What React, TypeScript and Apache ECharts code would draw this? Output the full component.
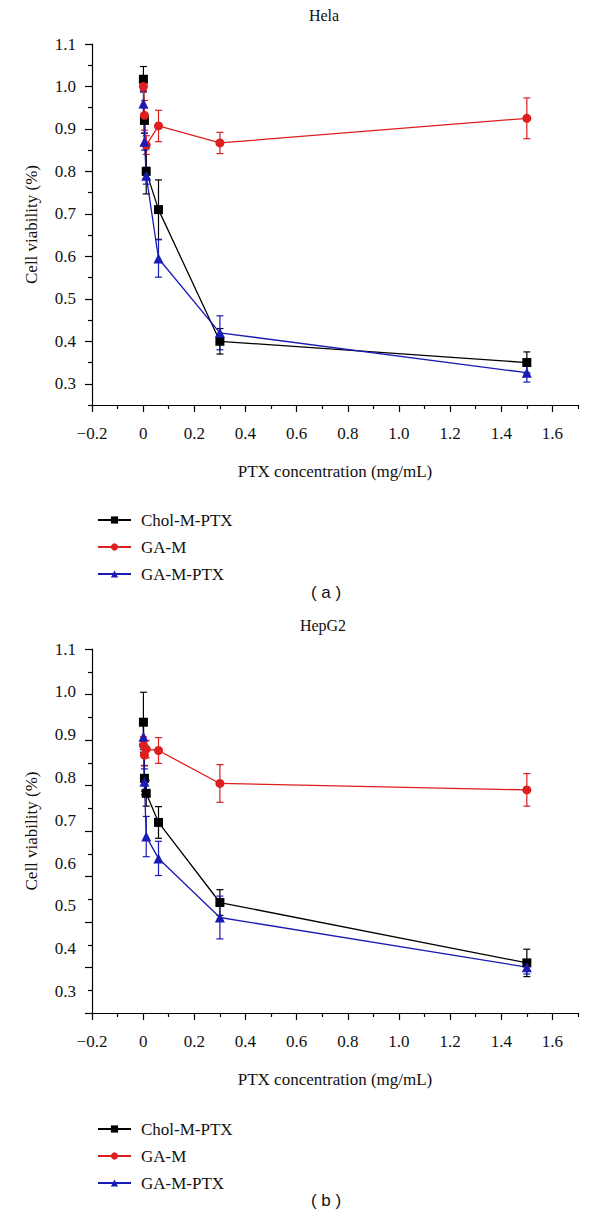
import React, { useEffect, useRef } from "react";
import * as echarts from "echarts";

// ---- data ----
const concentrations = [0.001, 0.005, 0.012, 0.06, 0.3, 1.5];
const seriesNames = ["Chol-M-PTX", "GA-M", "GA-M-PTX"];

// Hela
const helaChol = [1.017, 0.92, 0.8, 0.71, 0.4, 0.35];
const helaCholErr = [0.03, 0.03, 0.053, 0.07, 0.03, 0.025];
const helaGAM = [1.0, 0.932, 0.862, 0.907, 0.867, 0.925];
const helaGAMErr = [0.012, 0.035, 0.022, 0.037, 0.025, 0.048];
const helaGAMPTX = [0.96, 0.87, 0.79, 0.595, 0.42, 0.326];
const helaGAMPTXErr = [0.03, 0.02, 0.02, 0.044, 0.04, 0.022];

// HepG2 (values read against the printed labels)
const hepChol = [0.929, 0.798, 0.763, 0.695, 0.508, 0.367];
const hepCholErr = [0.07, 0.03, 0.03, 0.037, 0.03, 0.032];
const hepGAM = [0.875, 0.852, 0.866, 0.863, 0.786, 0.771];
const hepGAMErr = [0.02, 0.025, 0.02, 0.03, 0.044, 0.038];
const hepGAMPTX = [0.895, 0.79, 0.662, 0.611, 0.473, 0.357];
const hepGAMPTXErr = [0.03, 0.03, 0.047, 0.04, 0.05, 0.016];

const xMajorTicks = [-0.2, 0, 0.2, 0.4, 0.6, 0.8, 1.0, 1.2, 1.4, 1.6];
const xMinorTicks = [-0.1, 0.1, 0.3, 0.5, 0.7, 0.9, 1.1, 1.3, 1.5, 1.7];
const yLabelValues = [0.3, 0.4, 0.5, 0.6, 0.7, 0.8, 0.9, 1.0, 1.1];
const yMinorTicks = [0.25, 0.35, 0.45, 0.55, 0.65, 0.75, 0.85, 0.95, 1.05];
const yMajorTicksB = [0.3, 0.4, 0.5, 0.6, 0.7, 0.8, 0.9, 1.0, 1.1];
const yMinorTicksB = [0.35, 0.45, 0.55, 0.65, 0.75, 0.85, 0.95, 1.05];

const COLORS = ["#000000", "#dd1f1f", "#1a1ab4"];
const SYMBOLS = ["rect", "circle", "triangle"];
const SYMBOL_SIZES = [9, 9, 10];
const SERIF = "'Liberation Serif', 'Times New Roman', 'DejaVu Serif', serif";
const SANS = "'Liberation Sans', Arial, sans-serif";

export default function App() {
  const ref = useRef<HTMLDivElement>(null);
  useEffect(() => {
    if (!ref.current) return;
    const chart = echarts.init(ref.current, null, { renderer: "svg" });

    const fmtX = (v: number) => {
      if (Math.abs(v) < 1e-9) return "0";
      if (v < 0) return "\u2212" + Math.abs(v).toFixed(1);
      return v.toFixed(1);
    };

    const baseTick = (vals: number[], len: number) => ({
      show: true,
      inside: false,
      length: len,
      customValues: vals,
      lineStyle: { color: "#000", width: 1.2 },
    });

    const mkX = (gridIndex: number) => [
      {
        type: "value",
        gridIndex,
        position: "bottom",
        min: -0.2,
        max: 1.7,
        name: "PTX concentration (mg/mL)",
        nameLocation: "middle",
        nameGap: 58,
        nameTextStyle: { fontFamily: SERIF, fontSize: 17, color: "#111" },
        axisLine: { show: true, onZero: false, lineStyle: { color: "#000", width: 1.2 } },
        axisTick: baseTick(xMajorTicks, 7),
        axisLabel: {
          customValues: xMajorTicks,
          formatter: fmtX,
          margin: 20,
          fontFamily: SERIF,
          fontSize: 17,
          color: "#111",
        },
        splitLine: { show: false },
      },
      {
        type: "value",
        gridIndex,
        position: "bottom",
        min: -0.2,
        max: 1.7,
        axisLine: { show: false, onZero: false },
        axisTick: baseTick(xMinorTicks, 4),
        axisLabel: { show: false },
        splitLine: { show: false },
      },
    ];

    const yName = {
      name: "Cell viability (%)",
      nameLocation: "middle",
      nameGap: 52,
      nameTextStyle: { fontFamily: SERIF, fontSize: 17, color: "#111" },
    };
    const yLabel = {
      customValues: yLabelValues,
      formatter: (v: number) => v.toFixed(1),
      margin: 16,
      fontFamily: SERIF,
      fontSize: 17,
      color: "#111",
    };

    const yAxes = [
      {
        type: "value",
        gridIndex: 0,
        position: "left",
        min: 0.25,
        max: 1.1,
        ...yName,
        axisLine: { show: true, onZero: false, lineStyle: { color: "#000", width: 1.2 } },
        axisTick: baseTick(yLabelValues, 7),
        axisLabel: yLabel,
        splitLine: { show: false },
      },
      {
        type: "value",
        gridIndex: 0,
        position: "left",
        offset: 0,
        min: 0.25,
        max: 1.1,
        axisLine: { show: false, onZero: false },
        axisTick: baseTick(yMinorTicks, 4),
        axisLabel: { show: false },
        splitLine: { show: false },
      },
      {
        type: "value",
        gridIndex: 1,
        position: "left",
        min: 0.25,
        max: 1.1,
        ...yName,
        axisLine: { show: true, onZero: false, lineStyle: { color: "#000", width: 1.2 } },
        axisTick: { show: false },
        axisLabel: yLabel,
        splitLine: { show: false },
      },
      {
        type: "value",
        gridIndex: 1,
        position: "left",
        offset: 0,
        min: 0.3,
        max: 1.1,
        axisLine: { show: false, onZero: false },
        axisTick: baseTick(yMajorTicksB, 7),
        axisLabel: { show: false },
        splitLine: { show: false },
      },
      {
        type: "value",
        gridIndex: 1,
        position: "left",
        offset: 0,
        min: 0.3,
        max: 1.1,
        axisLine: { show: false, onZero: false },
        axisTick: baseTick(yMinorTicksB, 4),
        axisLabel: { show: false },
        splitLine: { show: false },
      },
    ];

    const groups = [
      { xi: 0, yi: 0, means: [helaChol, helaGAM, helaGAMPTX], errs: [helaCholErr, helaGAMErr, helaGAMPTXErr] },
      { xi: 2, yi: 2, means: [hepChol, hepGAM, hepGAMPTX], errs: [hepCholErr, hepGAMErr, hepGAMPTXErr] },
    ];

    const series: any[] = [];
    groups.forEach((g) => {
      g.means.forEach((m, si) => {
        const color = COLORS[si];
        series.push({
          type: "custom",
          xAxisIndex: g.xi,
          yAxisIndex: g.yi,
          z: 2,
          silent: true,
          encode: { x: 0, y: [1, 2] },
          data: concentrations.map((c, i) => [c, m[i] - g.errs[si][i], m[i] + g.errs[si][i]]),
          renderItem: (params: any, api: any) => {
            const x = api.value(0);
            const top = api.coord([x, api.value(2)]);
            const bot = api.coord([x, api.value(1)]);
            const w = 3.5;
            const style = { stroke: color, lineWidth: 1.2, fill: "none" };
            return {
              type: "group",
              children: [
                { type: "line", shape: { x1: top[0], y1: top[1], x2: bot[0], y2: bot[1] }, style },
                { type: "line", shape: { x1: top[0] - w, y1: top[1], x2: top[0] + w, y2: top[1] }, style },
                { type: "line", shape: { x1: bot[0] - w, y1: bot[1], x2: bot[0] + w, y2: bot[1] }, style },
              ],
            };
          },
        });
        series.push({
          type: "line",
          name: seriesNames[si],
          xAxisIndex: g.xi,
          yAxisIndex: g.yi,
          z: 3,
          data: concentrations.map((c, i) => [c, m[i]]),
          symbol: SYMBOLS[si],
          symbolSize: SYMBOL_SIZES[si],
          showAllSymbol: true,
          lineStyle: { color, width: 1.3 },
          itemStyle: { color, borderWidth: 0 },
          emphasis: { disabled: true },
        });
      });
    });

    const mkLegend = (top: number) => ({
      orient: "vertical",
      left: 92,
      top,
      selectedMode: false,
      itemWidth: 33,
      itemHeight: 9,
      itemGap: 9,
      data: seriesNames,
      textStyle: { fontFamily: SERIF, fontSize: 17, color: "#111", padding: [0, 0, 0, 5], lineHeight: 18 },
    });

    chart.setOption({
      animation: false,
      backgroundColor: "#ffffff",
      grid: [
        { left: 92, top: 44, width: 486, height: 361, containLabel: false },
        { left: 92, top: 649, width: 486, height: 364, containLabel: false },
      ],
      xAxis: [...mkX(0), ...mkX(1)],
      yAxis: yAxes,
      legend: [mkLegend(506), mkLegend(1115)],
      graphic: [
        { type: "text", x: 324, y: 15, style: { text: "Hela", fontFamily: SERIF, fontSize: 16, fill: "#111", align: "center", verticalAlign: "middle" } },
        { type: "text", x: 323, y: 625, style: { text: "HepG2", fontFamily: SERIF, fontSize: 16, fill: "#111", align: "center", verticalAlign: "middle" } },
        { type: "text", x: 326, y: 592, style: { text: "( a )", fontFamily: SANS, fontSize: 17, fill: "#111", align: "center", verticalAlign: "middle" } },
        { type: "text", x: 326, y: 1200, style: { text: "( b )", fontFamily: SANS, fontSize: 17, fill: "#111", align: "center", verticalAlign: "middle" } },
      ],
      series,
    });

    return () => chart.dispose();
  }, []);

  return <div ref={ref} style={{ position: "absolute", left: 0, top: 0, width: 600, height: 1217, background: "#fff" }} />;
}
